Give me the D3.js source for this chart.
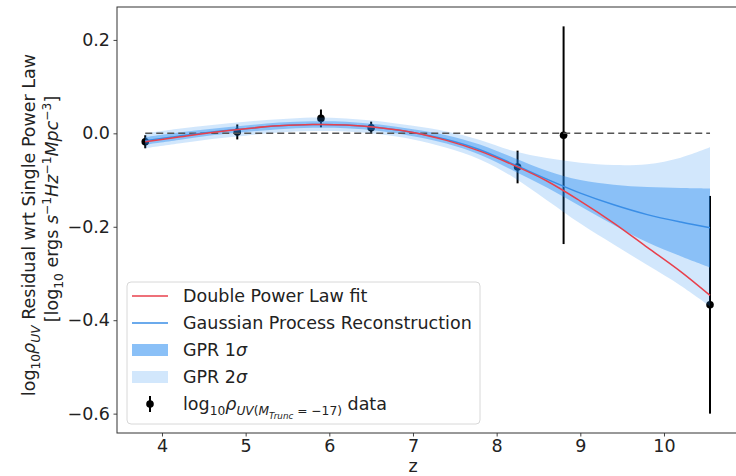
<!DOCTYPE html>
<html>
<head>
<meta charset="utf-8">
<script src="https://cdn.jsdelivr.net/npm/d3@7"></script>
<style>
  body { margin: 0; background: #fff; }
  svg { font-family: "DejaVu Sans", sans-serif; }
</style>
</head>
<body>
<div id="chart"></div>
<script>
// data
var zData = [3.80, 4.90, 5.90, 6.50, 8.25, 8.80, 10.55]
var resData = [-0.018, 0.003, 0.032, 0.012, -0.072, -0.004, -0.367]
var errData = [0.014, 0.016, 0.019, 0.013, 0.035, 0.233, 0.233]

var zGrid = [3.8, 4.2, 4.6, 5.0, 5.4, 5.8, 6.2, 6.6, 7.0, 7.4, 7.8, 8.2, 8.6, 9.0, 9.4, 9.8, 10.2, 10.55]
var dplFit = [-0.018, -0.008, 0.002, 0.010, 0.016, 0.019, 0.018, 0.012, 0.002, -0.015, -0.038, -0.068, -0.102, -0.145, -0.192, -0.244, -0.296, -0.347]
var gprMean = [-0.016, -0.006, 0.003, 0.010, 0.016, 0.019, 0.018, 0.012, 0.002, -0.013, -0.035, -0.066, -0.098, -0.128, -0.153, -0.174, -0.190, -0.202]
var gpr1Up = [-0.008, 0.002, 0.010, 0.017, 0.023, 0.026, 0.025, 0.019, 0.009, -0.004, -0.024, -0.052, -0.080, -0.100, -0.110, -0.115, -0.117, -0.118]
var gpr1Lo = [-0.024, -0.014, -0.004, 0.003, 0.009, 0.012, 0.011, 0.005, -0.006, -0.022, -0.046, -0.080, -0.116, -0.156, -0.196, -0.233, -0.263, -0.287]
var gpr2Up = [0.000, 0.010, 0.018, 0.025, 0.030, 0.034, 0.032, 0.026, 0.016, 0.004, -0.014, -0.038, -0.053, -0.063, -0.068, -0.066, -0.052, -0.030]
var gpr2Lo = [-0.032, -0.022, -0.012, -0.005, 0.002, 0.005, 0.004, -0.002, -0.013, -0.031, -0.056, -0.094, -0.143, -0.193, -0.238, -0.282, -0.326, -0.370]

var xTicks = [4, 5, 6, 7, 8, 9, 10]
var yTicks = [0.2, 0.0, -0.2, -0.4, -0.6]

var W = 736, H = 476
var margin = {left: 117, top: 7, bottom: 43}
var fs = 17.5

var svg = d3.select('#chart').append('svg')
  .attr('width', W)
  .attr('height', H)

// limits like matplotlib, 5% padding
var zMin = d3.min(zData), zMax = d3.max(zData)
var zPad = (zMax - zMin) * 0.05
var yMin = d3.min(resData, function (d, i) { return d - errData[i] })
var yMax = d3.max(resData, function (d, i) { return d + errData[i] })
var yPad = (yMax - yMin) * 0.05

var x = d3.scaleLinear()
  .domain([zMin - zPad, zMax + zPad])
  .range([margin.left, margin.left + 83.67 * (zMax - zMin + 2 * zPad)])
var y = d3.scaleLinear()
  .domain([yMin - yPad, yMax + yPad])
  .range([H - margin.bottom, margin.top])

var plotR = x.range()[1], plotB = H - margin.bottom

svg.append('clipPath').attr('id', 'clip')
  .append('rect')
  .attr('x', margin.left).attr('y', margin.top)
  .attr('width', plotR - margin.left).attr('height', plotB - margin.top)

var plot = svg.append('g').attr('clip-path', 'url(#clip)')

// error bars go first, the bands sit on top
var pts = zData.map(function (z, i) { return {z: z, v: resData[i], e: errData[i]} })
plot.append('g').selectAll('line')
  .data(pts).enter().append('line')
  .attr('x1', function (d) { return x(d.z) })
  .attr('x2', function (d) { return x(d.z) })
  .attr('y1', function (d) { return y(d.v + d.e) })
  .attr('y2', function (d) { return y(d.v - d.e) })
  .attr('stroke', '#000')
  .attr('stroke-width', 2)
plot.append('g').selectAll('circle')
  .data(pts).enter().append('circle')
  .attr('cx', function (d) { return x(d.z) })
  .attr('cy', function (d) { return y(d.v) })
  .attr('r', 3.8)
  .attr('fill', '#000')

var band = zGrid.map(function (z, i) {
  return {z: z, u1: gpr1Up[i], l1: gpr1Lo[i], u2: gpr2Up[i], l2: gpr2Lo[i], m: gprMean[i], f: dplFit[i]}
})
var curve = d3.curveCatmullRom

var area2 = d3.area().curve(curve)
  .x(function (d) { return x(d.z) })
  .y0(function (d) { return y(d.l2) })
  .y1(function (d) { return y(d.u2) })
var area1 = d3.area().curve(curve)
  .x(function (d) { return x(d.z) })
  .y0(function (d) { return y(d.l1) })
  .y1(function (d) { return y(d.u1) })

plot.append('path').datum(band)
  .attr('d', area2)
  .attr('fill', '#1e86f0').attr('fill-opacity', 0.2)
plot.append('path').datum(band)
  .attr('d', area1)
  .attr('fill', '#1e86f0').attr('fill-opacity', 0.4)

// zero line
plot.append('line')
  .attr('x1', x(zMin)).attr('x2', x(zMax))
  .attr('y1', y(0)).attr('y2', y(0))
  .attr('stroke', '#555')
  .attr('stroke-width', 1.5)
  .attr('stroke-dasharray', '7,4')

plot.append('path').datum(band)
  .attr('d', d3.line().curve(curve)
    .x(function (d) { return x(d.z) })
    .y(function (d) { return y(d.m) }))
  .attr('fill', 'none')
  .attr('stroke', '#3a8ee6')
  .attr('stroke-width', 1.5)

plot.append('path').datum(band)
  .attr('d', d3.line().curve(curve)
    .x(function (d) { return x(d.z) })
    .y(function (d) { return y(d.f) }))
  .attr('fill', 'none')
  .attr('stroke', '#e8404c')
  .attr('stroke-width', 1.5)

// axes
svg.append('g')
  .attr('transform', 'translate(0,' + plotB + ')')
  .call(d3.axisBottom(x).tickValues(xTicks).tickSize(3.5).tickSizeOuter(0).tickPadding(3.5)
    .tickFormat(d3.format('d')))
svg.append('g')
  .attr('transform', 'translate(' + margin.left + ',0)')
  .call(d3.axisLeft(y).tickValues(yTicks).tickSize(3.5).tickSizeOuter(0).tickPadding(3.5)
    .tickFormat(function (d) { return d3.format('.1f')(d).replace('-', '\u2212') }))
svg.selectAll('.tick text').style('font-size', fs + 'px').attr('fill', '#222')
  .style('font-family', '"DejaVu Sans", sans-serif')
svg.selectAll('.tick line').attr('stroke', '#444')
svg.selectAll('.domain').remove()

// spines
svg.append('rect')
  .attr('x', margin.left).attr('y', margin.top)
  .attr('width', plotR - margin.left).attr('height', plotB - margin.top)
  .attr('fill', 'none').attr('stroke', '#333').attr('stroke-width', 1)

// rich text helper: segments [text, italic, level] (level 1 sub, 2 subsub, -1 sup)
function richText (sel, segs, size) {
  var shift = {0: 0, 1: 0.28, 2: 0.48, '-1': -0.4}
  var scale = {0: 1, 1: 0.7, 2: 0.5, '-1': 0.7}
  var cur = 0
  segs.forEach(function (s) {
    var lvl = s[2] || 0
    var target = shift[lvl] * size
    sel.append('tspan')
      .attr('dy', target - cur)
      .style('font-style', s[1] ? 'italic' : 'normal')
      .style('font-size', (size * scale[lvl]) + 'px')
      .text(s[0])
    cur = target
  })
}

svg.append('text')
  .attr('x', x(7)).attr('y', 472)
  .attr('text-anchor', 'middle')
  .style('font-size', fs + 'px').attr('fill', '#222')
  .text('z')

var yl1 = svg.append('text')
  .attr('transform', 'translate(35,225) rotate(-90)')
  .attr('text-anchor', 'middle').attr('fill', '#222')
  .style('font-size', fs + 'px')
richText(yl1, [['log'], ['10', 0, 1], ['\u03c1', 1], ['UV', 1, 1], [' Residual wrt Single Power Law']], fs)
var yl2 = svg.append('text')
  .attr('transform', 'translate(58,209) rotate(-90)')
  .attr('text-anchor', 'middle').attr('fill', '#222')
  .style('font-size', fs + 'px')
richText(yl2, [['[log'], ['10', 0, 1], [' ergs '], ['s', 1], ['\u22121', 0, -1], ['Hz', 1], ['\u22121', 0, -1],
  ['Mpc', 1], ['\u22123', 0, -1], [']']], fs)

// legend
var lg = svg.append('g')
lg.append('rect')
  .attr('x', 127).attr('y', 282).attr('width', 353).attr('height', 142)
  .attr('rx', 4)
  .attr('fill', '#fff').attr('fill-opacity', 0.8)
  .attr('stroke', '#d8d8d8')

var rowY = [296, 323, 350, 377, 404]
var labels = ['Double Power Law fit', 'Gaussian Process Reconstruction', 'GPR 1\u03c3', 'GPR 2\u03c3']
lg.append('line').attr('x1', 132).attr('x2', 168).attr('y1', rowY[0]).attr('y2', rowY[0])
  .attr('stroke', '#e8404c').attr('stroke-width', 1.5)
lg.append('line').attr('x1', 132).attr('x2', 168).attr('y1', rowY[1]).attr('y2', rowY[1])
  .attr('stroke', '#3a8ee6').attr('stroke-width', 1.5)
lg.append('rect').attr('x', 132).attr('y', rowY[2] - 6).attr('width', 36).attr('height', 12)
  .attr('fill', '#1e86f0').attr('fill-opacity', 0.52)
lg.append('rect').attr('x', 132).attr('y', rowY[3] - 6).attr('width', 36).attr('height', 12)
  .attr('fill', '#1e86f0').attr('fill-opacity', 0.2)
lg.append('line').attr('x1', 150).attr('x2', 150).attr('y1', rowY[4] - 8).attr('y2', rowY[4] + 8)
  .attr('stroke', '#000').attr('stroke-width', 2)
lg.append('circle').attr('cx', 150).attr('cy', rowY[4]).attr('r', 3.8).attr('fill', '#000')

labels.forEach(function (t, i) {
  var tx = lg.append('text').attr('x', 183).attr('y', rowY[i] + 6.3)
    .style('font-size', fs + 'px').attr('fill', '#222')
  if (i >= 2) {
    tx.append('tspan').text(t.slice(0, -1))
    tx.append('tspan').style('font-style', 'italic').text('\u03c3')
  } else {
    tx.text(t)
  }
})
var dataLbl = lg.append('text').attr('x', 183).attr('y', rowY[4] + 6.3)
  .style('font-size', fs + 'px').attr('fill', '#222')
richText(dataLbl, [['log'], ['10', 0, 1], ['\u03c1', 1], ['UV', 1, 1], ['(', 0, 1], ['M', 1, 1], ['Trunc', 1, 2],
  [' = \u221217)', 0, 1], [' data']], fs)
</script>
</body>
</html>
